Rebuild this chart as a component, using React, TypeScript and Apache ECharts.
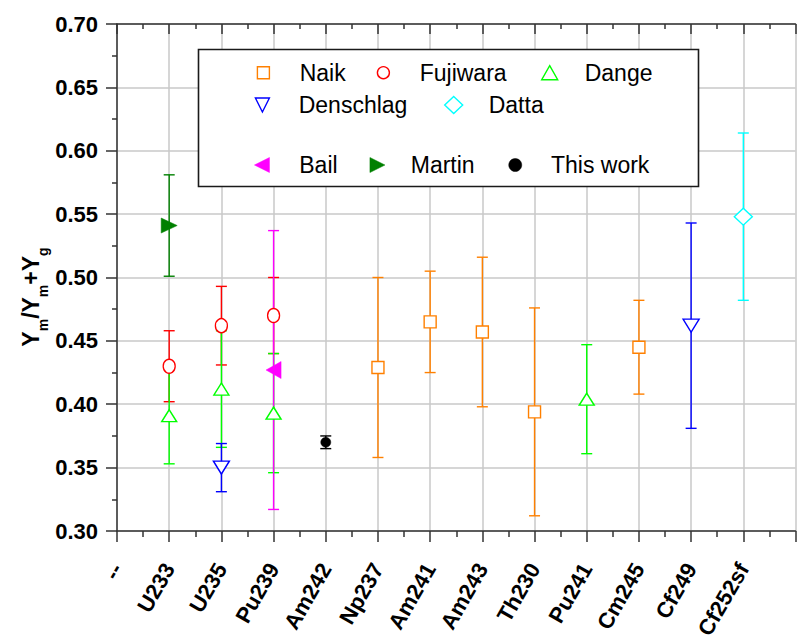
import React, { useEffect, useRef } from 'react';
import * as echarts from 'echarts';

// ---------- data ----------
const categories = ['--', 'U233', 'U235', 'Pu239', 'Am242', 'Np237', 'Am241', 'Am243', 'Th230', 'Pu241', 'Cm245', 'Cf249', 'Cf252sf'];
const yTicks = [0.3, 0.35, 0.4, 0.45, 0.5, 0.55, 0.6, 0.65, 0.7];

const naikX = [5, 6, 7, 8, 10];
const naikY = [0.429, 0.465, 0.457, 0.394, 0.445];
const naikErr = [0.071, 0.04, 0.059, 0.082, 0.037];

const fujiwaraX = [1, 2, 3];
const fujiwaraY = [0.43, 0.462, 0.47];
const fujiwaraErr = [0.028, 0.031, 0.03];

const dangeX = [1, 2, 3, 9];
const dangeY = [0.391, 0.412, 0.393, 0.404];
const dangeErr = [0.038, 0.046, 0.047, 0.043];

const denschlagX = [2, 11];
const denschlagY = [0.35, 0.462];
const denschlagErr = [0.019, 0.081];

const dattaX = [12];
const dattaY = [0.548];
const dattaErr = [0.066];

const bailX = [3];
const bailY = [0.427];
const bailErr = [0.11];

const martinX = [1];
const martinY = [0.541];
const martinErr = [0.04];

const thisWorkX = [4];
const thisWorkY = [0.37];
const thisWorkErr = [0.005];

// ---------- styling ----------
const FONT = '"Liberation Sans", Arial, Helvetica, sans-serif';
const AXIS = '#333333';
const GRIDC = '#c8c8c8';
const TRI_DOWN = 'path://M0,0L10,0L5,10Z';
const TRI_LEFT = 'path://M10,0L10,10L0,5Z';
const TRI_RIGHT = 'path://M0,0L10,5L0,10Z';

type Def = {
  name: string; xs: number[]; ys: number[]; errs: number[]; color: string;
  symbol: string; size: number[]; filled: boolean;
  // legend layout
  cx: number; cy: number; tx: number; lw: number; lh: number;
};

const defs: Def[] = [
  { name: 'Naik', xs: naikX, ys: naikY, errs: naikErr, color: '#FF8000', symbol: 'rect', size: [12, 12], filled: false, cx: 262.7, cy: 72.7, tx: 299, lw: 12, lh: 12 },
  { name: 'Fujiwara', xs: fujiwaraX, ys: fujiwaraY, errs: fujiwaraErr, color: '#FF0000', symbol: 'circle', size: [12, 14], filled: false, cx: 382.7, cy: 72.7, tx: 419, lw: 12, lh: 14 },
  { name: 'Dange', xs: dangeX, ys: dangeY, errs: dangeErr, color: '#00FF00', symbol: 'triangle', size: [15, 12], filled: false, cx: 549, cy: 72.7, tx: 584, lw: 16, lh: 14 },
  { name: 'Denschlag', xs: denschlagX, ys: denschlagY, errs: denschlagErr, color: '#0000FF', symbol: TRI_DOWN, size: [16, 13], filled: false, cx: 262.7, cy: 105, tx: 299, lw: 16, lh: 14 },
  { name: 'Datta', xs: dattaX, ys: dattaY, errs: dattaErr, color: '#00FFFF', symbol: 'diamond', size: [18, 17], filled: false, cx: 453, cy: 105, tx: 488, lw: 18, lh: 17 },
  { name: 'Bail', xs: bailX, ys: bailY, errs: bailErr, color: '#FF00FF', symbol: TRI_LEFT, size: [15, 17], filled: true, cx: 261.7, cy: 165, tx: 299, lw: 15, lh: 17 },
  { name: 'Martin', xs: martinX, ys: martinY, errs: martinErr, color: '#008000', symbol: TRI_RIGHT, size: [16, 15], filled: true, cx: 377.7, cy: 165, tx: 411, lw: 16, lh: 15 },
  { name: 'This work', xs: thisWorkX, ys: thisWorkY, errs: thisWorkErr, color: '#000000', symbol: 'circle', size: [10, 10], filled: true, cx: 515, cy: 165, tx: 550.7, lw: 13, lh: 13 },
];

function errorBars(d: Def) {
  return {
    type: 'custom',
    name: d.name + ' error',
    silent: true,
    data: d.xs.map((x, i) => [x, d.ys[i], d.errs[i]]),
    encode: { x: 0, y: 1 },
    renderItem: (_p: any, api: any) => {
      const x = api.value(0);
      const y = api.value(1);
      const e = api.value(2);
      const top = api.coord([x, y + e]);
      const bot = api.coord([x, y - e]);
      const hw = 5.5;
      const style = { stroke: d.color, lineWidth: 1.4, fill: 'none' };
      return {
        type: 'group',
        children: [
          { type: 'line', shape: { x1: top[0], y1: top[1], x2: bot[0], y2: bot[1] }, style },
          { type: 'line', shape: { x1: top[0] - hw, y1: top[1], x2: top[0] + hw, y2: top[1] }, style },
          { type: 'line', shape: { x1: bot[0] - hw, y1: bot[1], x2: bot[0] + hw, y2: bot[1] }, style },
        ],
      };
    },
  };
}

function points(d: Def) {
  return {
    type: 'scatter',
    name: d.name,
    data: d.xs.map((x, i) => [x, d.ys[i]]),
    symbol: d.symbol,
    symbolSize: d.size,
    itemStyle: d.filled
      ? { color: d.color, borderColor: d.color, borderWidth: 0.5, opacity: 1 }
      : { color: '#ffffff', borderColor: d.color, borderWidth: 1.4, opacity: 1 },
  };
}

function legendFor(d: Def) {
  const left = d.cx - d.lw / 2;
  const pad = d.tx - left - d.lw - 5;
  return {
    show: true,
    left,
    top: d.cy - 13,
    padding: 0,
    itemGap: 0,
    itemWidth: d.lw,
    itemHeight: d.lh,
    data: [d.name],
    selectedMode: false,
    z: 20,
    itemStyle: { borderWidth: d.filled ? 0.5 : 1.4 },
    textStyle: { fontSize: 23, fontFamily: FONT, color: '#000', lineHeight: 26, padding: [0, 0, 0, pad] },
  };
}

export default function App() {
  const ref = useRef<HTMLDivElement>(null);
  useEffect(() => {
    if (!ref.current) return;
    const chart = echarts.init(ref.current, null, { renderer: 'svg' });
    const series: any[] = [];
    defs.forEach((d) => {
      series.push(errorBars(d));
      series.push(points(d));
    });
    const option: any = {
      animation: false,
      backgroundColor: '#ffffff',
      grid: { left: 117, right: -9, top: 24, bottom: 112, containLabel: false },
      xAxis: [
        {
          type: 'value', position: 'bottom', min: 0, max: 13, interval: 1,
          axisLine: { show: true, onZero: false, lineStyle: { color: AXIS, width: 1.5 } },
          axisTick: { show: true, inside: false, length: 11, lineStyle: { color: AXIS, width: 1.5 } },
          minorTick: { show: true, splitNumber: 2, length: 6, lineStyle: { color: AXIS, width: 1.5 } },
          splitLine: { show: true, lineStyle: { color: GRIDC, width: 1.5 } },
          axisLabel: {
            show: true, rotate: 60, margin: 34, padding: [26, 0, 0, 0],
            fontSize: 22, fontWeight: 'bold', fontFamily: FONT, color: '#000',
            hideOverlap: false,
            formatter: (v: number) => (Number.isInteger(v) && categories[v] !== undefined ? categories[v] : ''),
          },
        },
        {
          type: 'value', position: 'top', min: 0, max: 13, interval: 1,
          axisLine: { show: true, onZero: false, lineStyle: { color: AXIS, width: 1.5 } },
          axisTick: { show: true, inside: true, length: 10, lineStyle: { color: AXIS, width: 1.5 } },
          minorTick: { show: true, splitNumber: 2, length: 5, lineStyle: { color: AXIS, width: 1.5 } },
          splitLine: { show: false },
          axisLabel: { show: false },
        },
      ],
      yAxis: {
        type: 'value', min: yTicks[0], max: yTicks[yTicks.length - 1], interval: 0.05,
        axisLine: { show: true, onZero: false, lineStyle: { color: AXIS, width: 1.5 } },
        axisTick: { show: true, inside: false, length: 11, lineStyle: { color: AXIS, width: 1.5 } },
        minorTick: { show: true, splitNumber: 2, length: 5, lineStyle: { color: AXIS, width: 1.5 } },
        splitLine: { show: true, lineStyle: { color: GRIDC, width: 1.5 } },
        axisLabel: {
          margin: 19, fontSize: 22, fontWeight: 'bold', fontFamily: FONT, color: '#000',
          formatter: (v: number) => v.toFixed(2),
        },
      },
      legend: defs.map(legendFor),
      graphic: [
        {
          type: 'rect', z: 10,
          shape: { x: 198.5, y: 49.5, width: 500, height: 137 },
          style: { fill: '#ffffff', stroke: '#1a1a1a', lineWidth: 1.6 },
        },
        {
          type: 'text', z: 10,
          x: 43, y: 297,
          rotation: Math.PI / 2,
          style: {
            text: '{a|Y}{b|m}{a|/Y}{b|m}{a|+Y}{b|g}',
            align: 'center',
            verticalAlign: 'bottom',
            rich: {
              a: { fontSize: 23, fontWeight: 'bold', fontFamily: FONT, fill: '#000', lineHeight: 24, verticalAlign: 'top' },
              b: { fontSize: 14, fontWeight: 'bold', fontFamily: FONT, fill: '#000', lineHeight: 14, verticalAlign: 'top', padding: [17, 0, 0, 0] },
            },
          },
        },
      ],
      series,
    };
    chart.setOption(option);
    return () => chart.dispose();
  }, []);
  return <div ref={ref} style={{ position: 'fixed', left: 0, top: 0, width: 797, height: 643 }} />;
}
